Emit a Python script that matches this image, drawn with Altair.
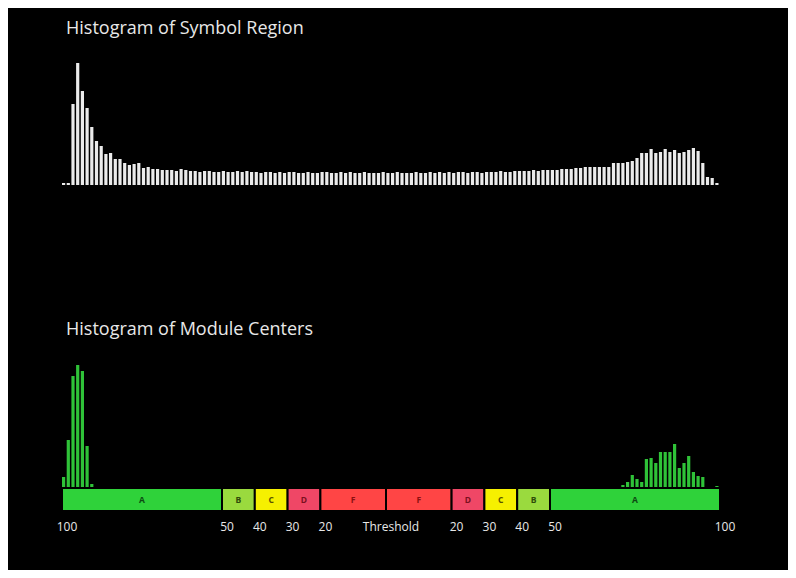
import altair as alt
import pandas as pd

N_BINS = 140

SYMBOL_COUNTS = [
    2, 2,
    81, 122, 94, 77, 58, 44, 39, 31, 32, 26, 26, 22, 20, 21, 22, 17, 18, 16, 16, 15, 15,
    15, 14, 16, 15, 14, 14, 13, 14, 14, 13, 13, 14, 13, 13, 14, 13, 14, 13,
    13, 12, 13, 13, 12, 13, 12, 13, 13, 12, 12, 13, 12, 12, 13, 13, 12, 12, 13, 12,
    13, 12, 12, 13, 12, 12, 12, 13, 12, 12, 13, 12, 12, 12, 13, 12, 12, 13, 12, 13,
    12, 13, 12, 13, 13, 12, 13, 13, 12, 13, 13, 13, 14, 13, 13, 14,
    14, 14, 14, 15, 14, 15, 15, 15, 15, 16, 16, 16, 17, 17, 18, 18, 18, 18,
    18, 18, 22, 22, 22, 23, 24, 27, 32, 32, 36, 32, 33, 36, 33, 35, 32, 33, 35, 37, 34, 22, 8, 7, 2,
]

MODULE_BINS = [0, 1, 2, 3, 4, 5, 6,
               119, 120, 121, 122, 123, 124, 125, 126, 127, 128, 129, 130,
               131, 132, 133, 134, 135, 136, 139]
MODULE_COUNTS = [10, 47, 111, 122, 116, 41, 3,
                 2, 5, 12, 8, 5, 28, 29, 24, 35, 35, 35, 43,
                 19, 24, 31, 15, 11, 10, 1]

GRADE_LETTERS = ["A", "B", "C", "D", "F", "F", "D", "C", "B", "A"]
GRADE_START = [-100, -50, -40, -30, -20, 0, 20, 30, 40, 50]
GRADE_END = [-50, -40, -30, -20, 0, 20, 30, 40, 50, 100]
GRADE_FILL = {"A": "#2fd23a", "B": "#9ada3e", "C": "#f6f000", "D": "#ef4766", "F": "#ff4545"}
GRADE_INK = {"A": "#0d4a12", "B": "#2f4a0a", "C": "#5a5200", "D": "#7a1020", "F": "#8a1010"}

TICK_VALUES = [-100, -50, -40, -30, -20, 0, 20, 30, 40, 50, 100]
TICK_LABELS = ["100", "50", "40", "30", "20", "Threshold", "20", "30", "40", "50", "100"]

TITLES = ["Histogram of Symbol Region", "Histogram of Module Centers"]

FONT = "Open Sans"

sym_df = pd.DataFrame({"bin": list(range(N_BINS)), "count": SYMBOL_COUNTS})
mod_df = pd.DataFrame({"bin": MODULE_BINS, "count": MODULE_COUNTS})
grade_df = pd.DataFrame({
    "letter": GRADE_LETTERS,
    "start": GRADE_START,
    "end": GRADE_END,
})
grade_df["fill"] = grade_df["letter"].map(GRADE_FILL)
grade_df["ink"] = grade_df["letter"].map(GRADE_INK)
grade_df["mid"] = (grade_df["start"] + grade_df["end"]) / 2
tick_df = pd.DataFrame({"value": TICK_VALUES, "label": TICK_LABELS})

bin_x = alt.Scale(domain=[0, N_BINS], range=[54, 712])
grade_x = alt.Scale(domain=[-100, -50, 50, 100], range=[54, 214, 542, 712])
top_y = alt.Scale(domain=[0, 130], range=[177, 47])
bot_y = alt.Scale(domain=[0, 130], range=[479, 349])

top_bars = alt.Chart(sym_df).transform_calculate(
    end="datum.bin + 0.68"
).mark_rect(color="#ebebeb").encode(
    x=alt.X("bin:Q", scale=bin_x, axis=None),
    x2="end:Q",
    y=alt.Y("count:Q", scale=top_y, axis=None),
    y2=alt.datum(0),
)

bot_bars = alt.Chart(mod_df).transform_calculate(
    end="datum.bin + 0.68"
).mark_rect(color="#2fc238").encode(
    x=alt.X("bin:Q", scale=bin_x, axis=None),
    x2="end:Q",
    y=alt.Y("count:Q", scale=bot_y, axis=None),
    y2=alt.datum(0),
)

grade_bar = alt.Chart(grade_df).mark_rect(stroke="#000000", strokeWidth=2).encode(
    x=alt.X("start:Q", scale=grade_x, axis=None),
    x2="end:Q",
    y=alt.value(480),
    y2=alt.value(503),
    fill=alt.Fill("fill:N", scale=None),
)

grade_text = alt.Chart(grade_df).mark_text(
    font=FONT, fontSize=8.5, fontWeight="bold", baseline="middle", align="center"
).encode(
    x=alt.X("mid:Q", scale=grade_x, axis=None),
    y=alt.value(491.5),
    text="letter:N",
    color=alt.Color("ink:N", scale=None),
)

tick_text = alt.Chart(tick_df).mark_text(
    font=FONT, fontSize=12, color="#e8e8e8", baseline="middle", align="center", dx=5
).encode(
    x=alt.X("value:Q", scale=grade_x, axis=None),
    y=alt.value(519),
    text="label:N",
)

title_top = alt.Chart(pd.DataFrame({"t": [TITLES[0]]})).mark_text(
    font=FONT, fontSize=18, color="#e8e8e8", align="left", baseline="middle"
).encode(x=alt.value(58), y=alt.value(21), text="t:N")

title_bot = alt.Chart(pd.DataFrame({"t": [TITLES[1]]})).mark_text(
    font=FONT, fontSize=18, color="#e8e8e8", align="left", baseline="middle"
).encode(x=alt.value(58), y=alt.value(322), text="t:N")

chart = alt.layer(
    top_bars, bot_bars, grade_bar, grade_text, tick_text, title_top, title_bot
).resolve_scale(
    x="independent", y="independent"
).properties(
    width=780, height=562, padding=0, background="#000000"
).configure_view(stroke=None)

chart.save("out.html", embed_options={"renderer": "svg", "actions": False})
